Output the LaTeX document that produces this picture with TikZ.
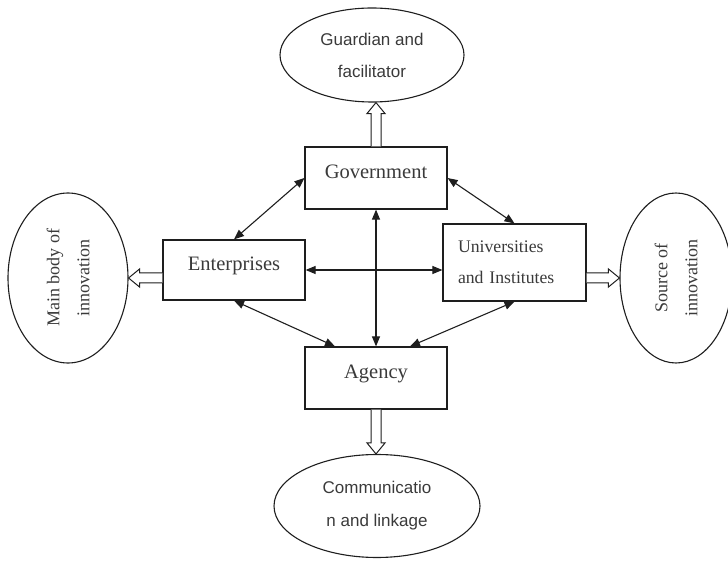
\documentclass[tikz,border=0pt]{standalone}
\usepackage{fontspec}
\setmainfont{Liberation Serif}
\newfontfamily\sansf{Liberation Sans}
\usetikzlibrary{shapes.geometric,arrows.meta,calc}
\definecolor{txt}{HTML}{3A3A3A}
\definecolor{ln}{HTML}{1E1E1E}
\begin{document}
\begin{tikzpicture}[x=1pt,y=1pt,
  box/.style={draw=ln, line width=1.2pt, rectangle, inner sep=0pt, text=txt, font=\fontsize{20.5}{24}\selectfont},
  tb/.style={text height=14pt, text depth=13pt},
  oval/.style={draw=ln, line width=1.1pt, ellipse, inner sep=0pt, text=txt, align=center},
  link/.style={draw=ln, line width=1.1pt, {Triangle[length=10pt,width=8pt]}-{Triangle[length=10pt,width=8pt]}},
  fat/.style={draw=ln, line width=1pt, fill=white, line join=miter}]
\useasboundingbox (0,0) rectangle (728,560);
% ovals
\node[oval, minimum width=184, minimum height=94, font=\sansf\fontsize{17}{32}\selectfont] (top) at (372,505) {Guardian and\\facilitator};
\node[oval, rotate=90, minimum width=170, minimum height=120, font=\fontsize{18}{30}\selectfont] (left) at (68,282) {Main body of\\innovation};
\node[oval, rotate=90, minimum width=170, minimum height=112, font=\fontsize{18}{30}\selectfont] (right) at (676,282) {Source of\\innovation};
\node[oval, minimum width=206, minimum height=103, font=\sansf\fontsize{17}{33}\selectfont] (bot) at (377,54) {Communicatio\\n and linkage};
% boxes
\node[box, tb, minimum width=142, minimum height=62] (gov) at (376,382) {Government};
\node[box, tb, minimum width=142, minimum height=60] (ent) at (234,290) {Enterprises};
\node[box, minimum width=143, minimum height=77, align=left, text width=113, font=\fontsize{17.7}{31}\selectfont] (univ) at (514.5,297.5) {Universities\\and Institutes};
\node[box, tb, minimum width=142, minimum height=62] (agency) at (376,182) {Agency};
% links
\draw[link] (gov.west) -- (ent.north);
\draw[link] (gov.east) -- (univ.north);
\draw[link] (ent.south) -- ($(agency.north)+(-41,0)$);
\draw[link] (univ.south) -- ($(agency.north)+(34,0)$);
\draw[link] (ent.east) -- (ent.east -| univ.west);
\draw[link] (gov.south) -- (agency.north);
% hollow arrows
\draw[fat] ($(gov.north)+(-5,0)$) -- ($(gov.north |- top.south)+(-5,-11)$) -- ++(-4,0) -- (gov.north |- top.south) -- ++(9,-11) -- ++(-4,0) -- ($(gov.north)+(5,0)$);
\draw[fat] ($(agency.south)+(-5,0)$) -- ($(agency.south |- bot.north)+(-5,11)$) -- ++(-4,0) -- (agency.south |- bot.north) -- ++(9,11) -- ++(-4,0) -- ($(agency.south)+(5,0)$);
\draw[fat] ($(ent.west |- left.south)+(0,5)$) -- ($(left.south)+(11,5)$) -- ++(0,4) -- (left.south) -- ++(11,-9) -- ++(0,4) -- ($(ent.west |- left.south)+(0,-5)$);
\draw[fat] ($(univ.east |- right.north)+(0,5)$) -- ($(right.north)+(-11,5)$) -- ++(0,4) -- (right.north) -- ++(-11,-9) -- ++(0,4) -- ($(univ.east |- right.north)+(0,-5)$);
\end{tikzpicture}
\end{document}
